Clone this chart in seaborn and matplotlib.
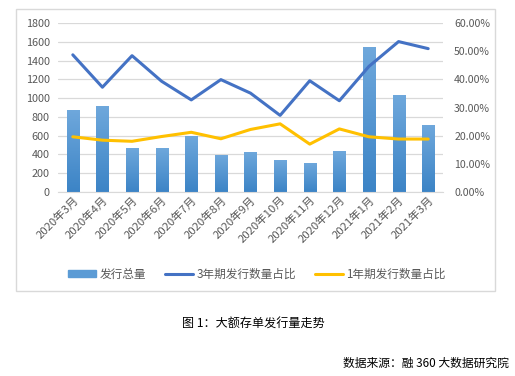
import numpy as np
import pandas as pd
import matplotlib
matplotlib.use("Agg")
import matplotlib.pyplot as plt
import matplotlib.patches as mpatches
from matplotlib.lines import Line2D
from matplotlib.ticker import FuncFormatter, MultipleLocator
import seaborn as sns

# ============================
# Dados
# ============================
months = ["2020年3月", "2020年4月", "2020年5月", "2020年6月", "2020年7月",
          "2020年8月", "2020年9月", "2020年10月", "2020年11月", "2020年12月",
          "2021年1月", "2021年2月", "2021年3月"]
total = [875, 918, 470, 470, 598, 395, 427, 341, 310, 437, 1547, 1035, 715]
share_3y = [48.7, 37.2, 48.4, 39.3, 32.7, 39.9, 35.1, 27.2, 39.5, 32.4, 44.6, 53.4, 50.9]
share_1y = [19.6, 18.4, 18.0, 19.7, 21.2, 18.9, 22.2, 24.2, 17.0, 22.4, 19.6, 18.8, 18.8]

BLUE = "#4472C4"
GOLD = "#FFC000"
BAR = "#5B9BD5"
GRID = "#D9D9D9"
TXT = "#595959"

sns.set_style("white")
plt.rcParams["font.family"] = ["Noto Sans CJK SC", "DejaVu Sans"]

df = pd.DataFrame({"month": months, "total": total,
                   "s3": np.array(share_3y) / 100, "s1": np.array(share_1y) / 100})
df["pos"] = np.arange(len(df))

W, H = 515, 376
fig = plt.figure(figsize=(W / 100, H / 100), dpi=100)

# moldura
fig.patches.append(mpatches.Rectangle((16 / W, 1 - 291 / H), 479 / W, 282 / H,
                                      transform=fig.transFigure, fill=False,
                                      edgecolor=GRID, linewidth=1))

ax = fig.add_axes([58 / W, 1 - 192 / H, 385 / W, 169 / H])
sns.barplot(data=df, x="month", y="total", color=BAR, width=0.41, ax=ax,
            saturation=1, zorder=2)
ax.set_xlabel("")
ax.set_ylabel("")
ax.grid(axis="y", color=GRID, linewidth=0.9, zorder=0)
ax.set_axisbelow(True)

# gradiente nas barras
grad = np.linspace(0, 1, 100).reshape(-1, 1)
cmap = matplotlib.colors.LinearSegmentedColormap.from_list("g", ["#3C84C6", "#6FA8DC"])
for p in ax.patches:
    x0, y0 = p.get_x(), p.get_y()
    w, h = p.get_width(), p.get_height()
    im = ax.imshow(grad, extent=[x0, x0 + w, y0, y0 + h], origin="lower",
                   cmap=cmap, aspect="auto", zorder=2)
    im.set_clip_path(p)
    p.set_facecolor("none")
    p.set_edgecolor("none")
ax.set_xlim(-0.5, len(months) - 0.5)
ax.set_ylim(0, 1800)
ax.yaxis.set_major_locator(MultipleLocator(200))

for s in ["top", "left", "right"]:
    ax.spines[s].set_visible(False)
ax.spines["bottom"].set_color(GRID)
ax.tick_params(axis="y", length=0, labelsize=7.8, colors=TXT, pad=6)
ax.tick_params(axis="x", length=0, labelsize=8.2, colors=TXT, pad=2)
ax.set_xticks(df["pos"])
ax.set_xticklabels(months, rotation=45, ha="right", rotation_mode="anchor")

ax2 = ax.twinx()
sns.lineplot(data=df, x="pos", y="s3", color=BLUE, linewidth=2.2, ax=ax2, zorder=3)
sns.lineplot(data=df, x="pos", y="s1", color=GOLD, linewidth=2.2, ax=ax2, zorder=3)
ax2.set_ylim(0, 0.6)
ax2.set_xlim(-0.5, len(months) - 0.5)
ax2.yaxis.set_major_locator(MultipleLocator(0.1))
ax2.yaxis.set_major_formatter(FuncFormatter(lambda v, _: f"{v * 100:.2f}%"))
ax2.set_ylabel("")
ax2.set_xlabel("")
for s in ax2.spines.values():
    s.set_visible(False)
ax2.tick_params(length=0, labelsize=7.6, colors=TXT, pad=8)

handles = [mpatches.Patch(color=BAR),
           Line2D([0], [0], color=BLUE, linewidth=2.2),
           Line2D([0], [0], color=GOLD, linewidth=2.2)]
labels = ["发行总量", "3年期发行数量占比", "1年期发行数量占比"]
fig.legend(handles, labels, loc="center", bbox_to_anchor=(257 / W, 1 - 274 / H),
           ncol=3, frameon=False, fontsize=8.4, labelcolor=TXT,
           handlelength=2.4, handleheight=0.5, columnspacing=1.6, handletextpad=0.3)

fig.text(253 / W, 1 - 323 / H, "图 1：大额存单发行量走势", ha="center", va="center",
         fontsize=8.7, color="black")
fig.text(426 / W, 1 - 363 / H, "数据来源：融 360 大数据研究院", ha="center", va="center",
         fontsize=8.5, color="black")

fig.savefig("out.png", dpi=100)
